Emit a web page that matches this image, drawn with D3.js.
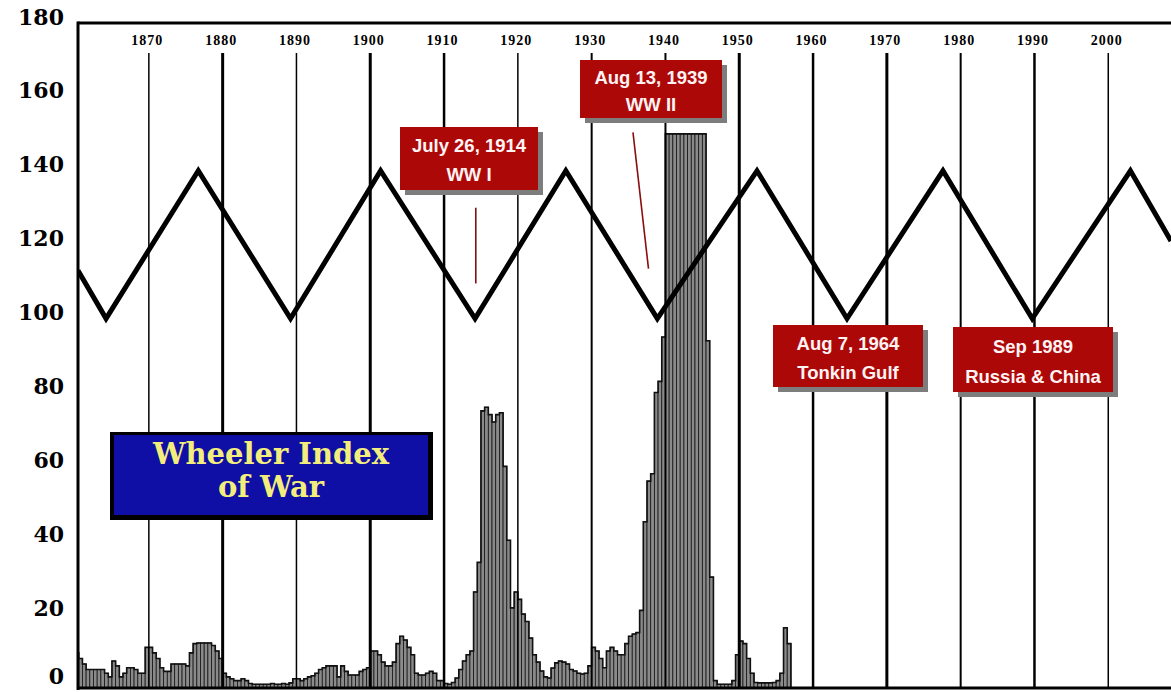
<!DOCTYPE html>
<html>
<head>
<meta charset="utf-8">
<title>Wheeler Index of War</title>
<script src="https://cdn.jsdelivr.net/npm/d3@7"></script>
<style>
	body{margin:0;background:#fff;}
	svg{display:block;}
</style>
</head>
<body>
<div id="wiwwrap"></div>
<script>
//war index, one bar per half year starting 1860.0
var startYear = 1860;
var barStep = 0.5;
var warIndex = [
	9.5, 8, 6.5, 5, 5, 5, 5, 5, 4, 3,            //1860 - 1864.5
	7.3, 6, 3, 4, 5.5, 5.5, 5, 4, 4, 11,         //1865
	11, 9.5, 8, 5.5, 4.5, 4.5, 6.5, 6.5, 6.5, 6.5, //1870
	6, 9.5, 12, 12.2, 12.2, 12.2, 12.2, 11.5, 10, 8, //1875
	4, 3, 2.5, 2, 2, 2.5, 2, 1.2, 1, 1,          //1880
	1, 1, 1, 1.2, 1, 1, 1.2, 1, 1.4, 2.5,        //1885
	2.5, 2, 2.5, 3, 3.3, 4, 5, 5.5, 6, 6,        //1890
	6, 3, 6, 4.5, 3.5, 3.5, 3.5, 4.5, 5, 5.5,    //1895
	10, 10, 9, 7, 6, 6, 7, 12, 14, 13,           //1900
	11, 9, 4, 3.5, 3.5, 4, 4.5, 4, 2, 2,         //1905
	1.2, 1, 1.5, 2.7, 5, 7.3, 9, 10, 26, 34,     //1910
	75, 76, 74, 72, 74, 74.5, 60, 40, 21.7, 26,  //1915
	24, 20, 18, 13.5, 9, 7, 4.6, 3, 2.7, 5.4,    //1920
	6.8, 7.3, 7, 6.5, 5, 4.6, 4, 3.8, 4, 6,      //1925
	11, 10, 8, 5.5, 10, 11, 10, 9, 9, 12,        //1930
	14, 14.6, 15, 21, 45, 56, 58, 80, 83, 95,    //1935
	150, 150, 150, 150, 150, 150, 150, 150, 150, 150, //1940
	150, 94, 30, 2, 1, 1, 1, 1, 2, 9,            //1945
	12.7, 12, 8, 4, 1.5, 1.4, 1.4, 1.4, 1.4, 1.5, //1950
	2, 4, 16.3, 12                               //1955
];

//25 year war cycle zigzag
var cycleYears = [1860.4, 1864.2, 1876.7, 1889.2, 1901.4, 1914.2, 1926.5, 1938.9, 1952.4, 1964.6, 1977.6, 1989.7, 2003.0, 2008.5];
var cycleValues = [113, 100, 140, 100, 140, 100, 140, 100, 140, 100, 140, 100, 140, 121];

var decades = [1870, 1880, 1890, 1900, 1910, 1920, 1930, 1940, 1950, 1960, 1970, 1980, 1990, 2000];
var yTicks = [0, 20, 40, 60, 80, 100, 120, 140, 160, 180];

var eventLine1 = ["July 26, 1914", "Aug 13, 1939", "Aug 7, 1964", "Sep 1989"];
var eventLine2 = ["WW I", "WW II", "Tonkin Gulf", "Russia & China"];
var titleLines = ["Wheeler Index", "of War"];

(function(){

	var W = 1171, H = 692;
	var left = 78, top = 23, bottom = 688;

	//layout of the callouts (pixels) and their pointer lines (data coords)
	var boxes = [
		{x:400, y:127, w:138, h:63},
		{x:580, y:60, w:142, h:58},
		{x:773, y:325, w:150, h:62},
		{x:953, y:327, w:160, h:65}
	];
	var pointers = [
		[[1914.3, 130], [1914.3, 109.5]],
		[[1935.6, 150.4], [1937.7, 113.5]]
	];
	//decade line weights, as they come out in the scan
	var lineWeights = [1.5, 3, 1.5, 3, 2.5, 1.5, 2, 2, 3, 2.5, 3, 2, 2.5, 1.5];

	var x = d3.scaleLinear().domain([1860.4, 2008.5]).range([left, W]);
	var y = d3.scaleLinear().domain([0, 180]).range([bottom, top]);

	var svg = d3.select("#wiwwrap").append("svg")
		.attr("width", W).attr("height", H)
		.style("background", "#fff");

	svg.append("clipPath").attr("id", "plotclip")
		.append("rect").attr("x", left).attr("y", 0).attr("width", W - left).attr("height", bottom);

	var plot = svg.append("g").attr("clip-path", "url(#plotclip)");

	//histogram bars
	var bars = warIndex.map(function(v, i){ return {yr: startYear + i*barStep, v: v}; });

	plot.append("g").selectAll("rect").data(bars).enter().append("rect")
		.attr("x", function(d){ return x(d.yr); })
		.attr("y", function(d){ return y(d.v); })
		.attr("width", function(d){ return x(d.yr + barStep) - x(d.yr); })
		.attr("height", function(d){ return y(0) - y(d.v); })
		.attr("fill", "#8a8a8a")
		.attr("stroke", "#151515")
		.attr("stroke-width", 0.8);

	//dark outline along the top of the bars
	var outline = bars.slice();
	outline.push({yr: bars[bars.length-1].yr + barStep, v: bars[bars.length-1].v});
	outline.push({yr: bars[bars.length-1].yr + barStep, v: 0});
	plot.append("path")
		.datum(outline)
		.attr("d", d3.line().x(function(d){ return x(d.yr); }).y(function(d){ return y(d.v); }).curve(d3.curveStepAfter))
		.attr("fill", "none")
		.attr("stroke", "#111")
		.attr("stroke-width", 1.6);

	//decade grid lines
	plot.append("g").selectAll("line").data(decades).enter().append("line")
		.attr("x1", function(d){ return x(d); })
		.attr("x2", function(d){ return x(d); })
		.attr("y1", 53).attr("y2", bottom)
		.attr("stroke", "#000")
		.attr("stroke-width", function(d, i){ return lineWeights[i]; });

	//war cycle zigzag
	var cycle = cycleYears.map(function(yr, i){ return [yr, cycleValues[i]]; });
	plot.append("path")
		.datum(cycle)
		.attr("d", d3.line().x(function(d){ return x(d[0]); }).y(function(d){ return y(d[1]); }))
		.attr("fill", "none")
		.attr("stroke", "#000")
		.attr("stroke-width", 5)
		.attr("stroke-linejoin", "miter");

	//pointer lines under the war callouts
	svg.append("g").selectAll("line").data(pointers).enter().append("line")
		.attr("x1", function(d){ return x(d[0][0]); })
		.attr("y1", function(d){ return y(d[0][1]); })
		.attr("x2", function(d){ return x(d[1][0]); })
		.attr("y2", function(d){ return y(d[1][1]); })
		.attr("stroke", "#8b0d0d")
		.attr("stroke-width", 1.6);

	//red callouts
	var call = svg.append("g").selectAll("g").data(boxes).enter().append("g");
	call.append("rect")
		.attr("x", function(d){ return d.x + 5; })
		.attr("y", function(d){ return d.y + 5; })
		.attr("width", function(d){ return d.w; })
		.attr("height", function(d){ return d.h; })
		.attr("fill", "#7d7d7d");
	call.append("rect")
		.attr("x", function(d){ return d.x; })
		.attr("y", function(d){ return d.y; })
		.attr("width", function(d){ return d.w; })
		.attr("height", function(d){ return d.h; })
		.attr("fill", "#ad0808");
	call.append("text")
		.attr("x", function(d){ return d.x + d.w/2; })
		.attr("y", function(d){ return d.y + d.h*0.3; })
		.text(function(d, i){ return eventLine1[i]; });
	call.append("text")
		.attr("x", function(d){ return d.x + d.w/2; })
		.attr("y", function(d){ return d.y + d.h*0.76; })
		.text(function(d, i){ return eventLine2[i]; });
	call.selectAll("text")
		.attr("text-anchor", "middle")
		.attr("dominant-baseline", "central")
		.attr("font-family", "'Liberation Sans', Arial, sans-serif")
		.attr("font-weight", "bold")
		.attr("font-size", 18.5)
		.attr("fill", "#fff3f3");

	//title box
	var tb = svg.append("g");
	tb.append("rect").attr("x", 110).attr("y", 432).attr("width", 323).attr("height", 88).attr("fill", "#000");
	tb.append("rect").attr("x", 114).attr("y", 435).attr("width", 314).attr("height", 80).attr("fill", "#0f0fa5");
	tb.selectAll("text").data(titleLines).enter().append("text")
		.attr("x", 271)
		.attr("y", function(d, i){ return i === 0 ? 454 : 487; })
		.attr("text-anchor", "middle")
		.attr("dominant-baseline", "central")
		.attr("font-family", "'DejaVu Serif', serif")
		.attr("font-weight", "bold")
		.attr("font-size", 29)
		.attr("fill", "#f3ee7c")
		.text(function(d){ return d; });

	//frame
	svg.append("line").attr("x1", left).attr("x2", W).attr("y1", top).attr("y2", top)
		.attr("stroke", "#000").attr("stroke-width", 3);
	svg.append("line").attr("x1", left).attr("x2", left).attr("y1", top - 1.5).attr("y2", bottom + 2)
		.attr("stroke", "#000").attr("stroke-width", 3);
	svg.append("line").attr("x1", left).attr("x2", W).attr("y1", bottom).attr("y2", bottom)
		.attr("stroke", "#000").attr("stroke-width", 3);

	//y axis labels
	var yAxis = svg.append("g")
		.attr("transform", "translate(64,-6)")
		.call(d3.axisLeft(y).tickValues(yTicks).tickSize(0).tickPadding(0).tickFormat(d3.format("d")));
	yAxis.select(".domain").remove();
	yAxis.selectAll("text")
		.attr("font-family", "'DejaVu Serif', serif")
		.attr("font-weight", "bold")
		.attr("font-size", 22)
		.attr("fill", "#000");
	//keep the bottom label inside the page
	yAxis.selectAll("text").filter(function(d){ return d === 0; })
		.attr("dy", "0.05em");

	//decade labels along the top
	var xAxis = svg.append("g")
		.attr("transform", "translate(-2,45)")
		.call(d3.axisTop(x).tickValues(decades).tickSize(0).tickPadding(0).tickFormat(d3.format("d")));
	xAxis.select(".domain").remove();
	xAxis.selectAll("text")
		.attr("font-family", "'Liberation Serif', serif")
		.attr("font-weight", "bold")
		.attr("font-size", 14)
		.attr("letter-spacing", 1)
		.attr("fill", "#000");

})();
</script>
</body>
</html>
